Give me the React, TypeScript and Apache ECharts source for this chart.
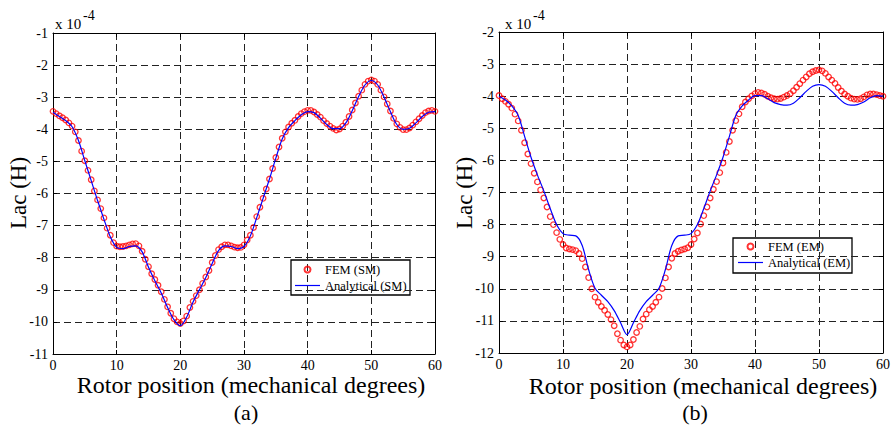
import React, { useEffect, useRef } from "react";
import * as echarts from "echarts";

// Rotor position sampling (mechanical degrees)
const FEM_STEP_DEG = 0.5;
const ANA_STEP_DEG = 1;
const X_MIN = 0;
const X_MAX = 60;
const X_INTERVAL = 10;

// (a) SM: Lac in units of 1e-4 H
const femSM = [
  -3.44, -3.51, -3.58, -3.64, -3.71, -3.8, -3.9, -4.08, -4.35, -4.68,
  -4.98, -5.28, -5.57, -5.92, -6.2, -6.47, -6.76, -7.08, -7.3, -7.53,
  -7.64, -7.66, -7.65, -7.63, -7.6, -7.57, -7.56, -7.63, -7.8, -8.05,
  -8.28, -8.5, -8.68, -8.86, -9.06, -9.3, -9.53, -9.73, -9.9, -10.0,
  -10.05, -9.97, -9.82, -9.55, -9.36, -9.18, -9.0, -8.8, -8.6, -8.4,
  -8.15, -7.93, -7.75, -7.66, -7.6, -7.6, -7.63, -7.67, -7.69, -7.68,
  -7.6, -7.45, -7.3, -7.06, -6.72, -6.43, -6.15, -5.86, -5.55, -5.22,
  -4.88, -4.55, -4.28, -4.08, -3.93, -3.81, -3.72, -3.6, -3.51, -3.45,
  -3.41, -3.41, -3.46, -3.54, -3.62, -3.73, -3.82, -3.9, -3.97, -4.02,
  -3.99, -3.9, -3.78, -3.6, -3.4, -3.18, -2.97, -2.78, -2.6, -2.5,
  -2.46, -2.5, -2.6, -2.78, -2.99, -3.21, -3.43, -3.66, -3.83, -3.94,
  -4.01, -4.01, -3.96, -3.87, -3.77, -3.67, -3.57, -3.48, -3.43, -3.41,
  -3.44,
];

const anaSM = [
  -3.47, -3.6, -3.73, -3.92, -4.35, -4.98, -5.6, -6.22, -6.8, -7.35,
  -7.68, -7.72, -7.65, -7.63, -7.82, -8.3, -8.72, -9.1, -9.55, -9.93,
  -10.12, -9.85, -9.38, -9.0, -8.62, -8.18, -7.78, -7.63, -7.65, -7.72,
  -7.65, -7.32, -6.75, -6.15, -5.55, -4.9, -4.3, -3.95, -3.73, -3.55,
  -3.45, -3.48, -3.65, -3.85, -3.98, -3.98, -3.8, -3.42, -2.98, -2.62,
  -2.48, -2.62, -3.0, -3.45, -3.85, -4.0, -3.97, -3.8, -3.6, -3.47,
  -3.45,
];

// (b) EM: Lac in units of 1e-4 H
const femEM = [
  -3.98, -4.08, -4.16, -4.25, -4.37, -4.56, -4.77, -5.06, -5.45, -5.8,
  -6.1, -6.4, -6.67, -6.92, -7.17, -7.45, -7.75, -8.0, -8.25, -8.46,
  -8.62, -8.73, -8.76, -8.78, -8.81, -8.9, -9.06, -9.32, -9.65, -10.0,
  -10.26, -10.42, -10.55, -10.67, -10.8, -10.96, -11.15, -11.4, -11.6, -11.75,
  -11.81, -11.75, -11.58, -11.36, -11.17, -10.94, -10.79, -10.65, -10.55, -10.42,
  -10.26, -9.99, -9.66, -9.32, -9.05, -8.9, -8.83, -8.79, -8.76, -8.72,
  -8.62, -8.45, -8.26, -7.98, -7.72, -7.45, -7.17, -6.9, -6.66, -6.38,
  -6.08, -5.75, -5.41, -5.06, -4.76, -4.55, -4.33, -4.18, -4.08, -3.99,
  -3.92, -3.88, -3.9, -3.94, -4.0, -4.05, -4.08, -4.09, -4.07, -4.03,
  -3.98, -3.92, -3.83, -3.72, -3.61, -3.5, -3.4, -3.3, -3.24, -3.2,
  -3.18, -3.21, -3.29, -3.4, -3.5, -3.6, -3.73, -3.84, -3.93, -4.0,
  -4.06, -4.09, -4.1, -4.08, -4.02, -3.96, -3.93, -3.93, -3.95, -3.98,
  -4.0,
];

const anaEM = [
  -4.0, -4.12, -4.3, -4.6, -5.25, -5.9, -6.45, -6.95, -7.5, -8.0,
  -8.28, -8.33, -8.35, -8.65, -9.4, -9.98, -10.2, -10.4, -10.68, -11.06,
  -11.43, -11.06, -10.68, -10.4, -10.2, -9.98, -9.4, -8.65, -8.35, -8.33,
  -8.28, -8.0, -7.5, -6.95, -6.45, -5.9, -5.25, -4.6, -4.3, -4.12,
  -3.98, -3.98, -4.08, -4.2, -4.26, -4.28, -4.22, -4.05, -3.85, -3.69,
  -3.64, -3.69, -3.85, -4.05, -4.22, -4.28, -4.26, -4.18, -4.05, -3.98,
  -4.0,
];

const Y_RANGE_A = { min: -11, max: -1 };
const Y_RANGE_B = { min: -12, max: -2 };

const LEGEND_A = ["FEM (SM)", "Analytical (SM)"];
const LEGEND_B = ["FEM (EM)", "Analytical (EM)"];
const X_TITLE = "Rotor position (mechanical degrees)";
const Y_TITLE = "Lac (H)";
const SCALE_BASE = "x 10";
const SCALE_EXP = "-4";

const SERIF = "Liberation Serif";
const LINE_ICON = "path://M0,0L25,0L25,1.2L0,1.2Z";

const toPairs = (vals: number[], step: number) => vals.map((v, i) => [i * step, v]);

export default function App() {
  const ref = useRef<HTMLDivElement>(null);
  useEffect(() => {
    if (!ref.current) return;
    const chart = echarts.init(ref.current, undefined, { renderer: "svg" });

    const dash = { color: "#222", type: [7, 4] as number[], width: 1 };
    const frame = { color: "#000", width: 1 };

    const makeX = (gridIndex: number, position: "bottom" | "top") => ({
      type: "value",
      gridIndex,
      position,
      min: X_MIN,
      max: X_MAX,
      interval: X_INTERVAL,
      axisLine: { show: true, onZero: false, lineStyle: frame },
      axisTick: { show: true, inside: true, length: 4, lineStyle: frame },
      axisLabel: {
        show: position === "bottom",
        color: "#000",
        fontFamily: SERIF,
        fontSize: 14,
        margin: 4,
      },
      splitLine: { show: position === "bottom", lineStyle: dash },
    });
    const makeY = (
      gridIndex: number,
      position: "left" | "right",
      range: { min: number; max: number }
    ) => ({
      type: "value",
      gridIndex,
      position,
      min: range.min,
      max: range.max,
      interval: 1,
      axisLine: { show: true, onZero: false, lineStyle: frame },
      axisTick: { show: true, inside: true, length: 4, lineStyle: frame },
      axisLabel: {
        show: position === "left",
        color: "#000",
        fontFamily: SERIF,
        fontSize: 14,
        margin: 5,
      },
      splitLine: { show: position === "left", lineStyle: dash },
    });

    const femStyle = {
      color: "rgba(0,0,0,0)",
      borderColor: "#ff0000",
      borderWidth: 1.3,
    };

    const texts: any[] = [];
    const addText = (
      x: number,
      y: number,
      text: string,
      size: number,
      rotation = 0,
      align = "center"
    ) =>
      texts.push({
        type: "text",
        x,
        y,
        rotation,
        silent: true,
        style: {
          text,
          fill: "#000",
          fontFamily: SERIF,
          fontSize: size,
          align,
          verticalAlign: "middle",
        },
      });

    addText(18, 193, Y_TITLE, 23, Math.PI / 2);
    addText(251, 385, X_TITLE, 24);
    addText(246, 412, "(a)", 22);
    addText(55, 24, SCALE_BASE, 15, 0, "left");
    addText(83, 15, SCALE_EXP, 14, 0, "left");

    addText(464, 193, Y_TITLE, 23, Math.PI / 2);
    addText(703, 386, X_TITLE, 24);
    addText(695, 412, "(b)", 22);
    addText(505, 24, SCALE_BASE, 15, 0, "left");
    addText(533, 15, SCALE_EXP, 14, 0, "left");

    const boxes = [
      { x: 291, y: 260, width: 119, height: 35 },
      { x: 733, y: 238, width: 119, height: 35 },
    ].map((shape) => ({
      type: "rect",
      shape,
      silent: true,
      style: { fill: "none", stroke: "#000", lineWidth: 1.3 },
    }));

    const legendBase = {
      orient: "vertical",
      padding: 0,
      itemWidth: 25,
      itemHeight: 6,
      itemGap: 3,
      selectedMode: false,
      textStyle: { fontFamily: SERIF, fontSize: 12.5, color: "#000" },
    };

    chart.setOption({
      animation: false,
      backgroundColor: "#fff",
      textStyle: { fontFamily: SERIF },
      grid: [
        { left: 53, top: 33, width: 382, height: 321 },
        { left: 499, top: 32, width: 384, height: 321 },
      ],
      xAxis: [makeX(0, "bottom"), makeX(0, "top"), makeX(1, "bottom"), makeX(1, "top")],
      yAxis: [
        makeY(0, "left", Y_RANGE_A),
        makeY(0, "right", Y_RANGE_A),
        makeY(1, "left", Y_RANGE_B),
        makeY(1, "right", Y_RANGE_B),
      ],
      legend: [
        {
          ...legendBase,
          data: [LEGEND_A[0], { name: LEGEND_A[1], icon: LINE_ICON }],
          left: 295,
          top: 263,
        },
        {
          ...legendBase,
          data: [LEGEND_B[0], { name: LEGEND_B[1], icon: LINE_ICON }],
          left: 738,
          top: 240,
        },
      ],
      graphic: [...boxes, ...texts],
      series: [
        {
          name: LEGEND_A[0],
          type: "scatter",
          xAxisIndex: 0,
          yAxisIndex: 0,
          symbol: "circle",
          symbolSize: 5.5,
          itemStyle: femStyle,
          data: toPairs(femSM, FEM_STEP_DEG),
        },
        {
          name: LEGEND_A[1],
          type: "line",
          xAxisIndex: 0,
          yAxisIndex: 0,
          showSymbol: false,
          symbol: "none",
          smooth: 0.3,
          color: "#0000ff",
          itemStyle: { color: "#0000ff" },
          lineStyle: { color: "#0000ff", width: 1.2 },
          data: toPairs(anaSM, ANA_STEP_DEG),
        },
        {
          name: LEGEND_B[0],
          type: "scatter",
          xAxisIndex: 2,
          yAxisIndex: 2,
          symbol: "circle",
          symbolSize: 5.5,
          itemStyle: femStyle,
          data: toPairs(femEM, FEM_STEP_DEG),
        },
        {
          name: LEGEND_B[1],
          type: "line",
          xAxisIndex: 2,
          yAxisIndex: 2,
          showSymbol: false,
          symbol: "none",
          smooth: 0.3,
          color: "#0000ff",
          itemStyle: { color: "#0000ff" },
          lineStyle: { color: "#0000ff", width: 1.2 },
          data: toPairs(anaEM, ANA_STEP_DEG),
        },
      ],
    });
    return () => chart.dispose();
  }, []);

  return (
    <div style={{ position: "absolute", left: 0, top: 0, width: 894, height: 426, background: "#fff" }}>
      <div ref={ref} style={{ width: 894, height: 426 }} />
    </div>
  );
}
